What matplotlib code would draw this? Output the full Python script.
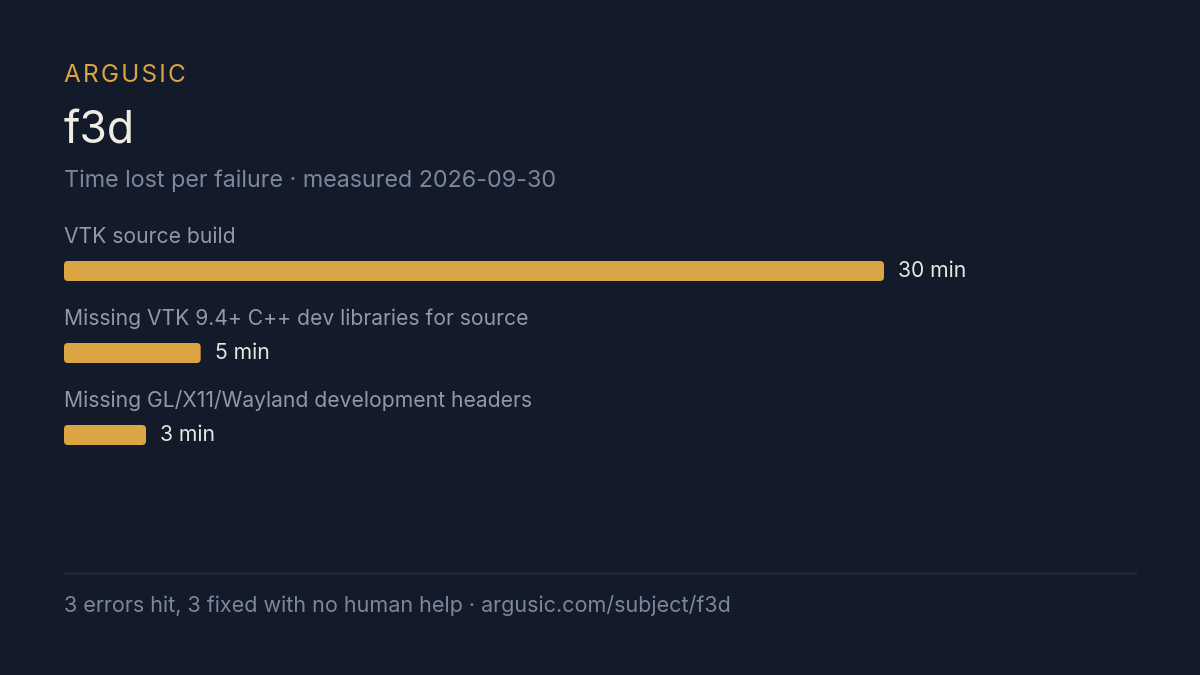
import matplotlib.pyplot as plt
from matplotlib.patches import FancyBboxPatch

plt.rcParams['font.family'] = ['Inter', 'DejaVu Sans']

labels = ['VTK source build',
          'Missing VTK 9.4+ C++ dev libraries for source',
          'Missing GL/X11/Wayland development headers']
minutes = [30, 5, 3]
value_text = ['30 min', '5 min', '3 min']

bg = '#131a2a'
bar_color = '#dba544'

fig = plt.figure(figsize=(12, 6.75), dpi=100)
fig.patch.set_facecolor(bg)

# full-figure axes in pixel coordinates for text
ax = fig.add_axes([0, 0, 1, 1])
ax.set_xlim(0, 1200)
ax.set_ylim(675, 0)
ax.axis('off')
ax.set_facecolor(bg)

ax.text(64, 82, 'A R G U S I C'.replace(' ', '\u200a'), color='#dba544', fontsize=17.5,
        va='baseline', ha='left')
ax.text(64, 144, 'f3d', color='#efece3', fontsize=32, va='baseline', ha='left')
ax.text(64, 187, 'Time lost per failure \u00b7 measured 2026-09-30', color='#7d879a',
        fontsize=16.8, va='baseline', ha='left')

# bar axes: x from 64px to 884px spans 0..30 minutes
bx = fig.add_axes([64 / 1200, 0, 820 / 1200, 1])
bx.set_xlim(0, max(minutes))
bx.set_ylim(675, 0)
bx.axis('off')
bx.patch.set_alpha(0)

px = max(minutes) / 820
row0 = 271
step = 82
for i, (lab, m, vt) in enumerate(zip(labels, minutes, value_text)):
    yc = row0 + i * step
    ax.text(64, yc - 28, lab, color='#8f99aa', fontsize=15.2, va='baseline', ha='left')
    r = 4
    bar = FancyBboxPatch((0, yc - 10), m, 20,
                         boxstyle=f'round,pad=0,rounding_size={r * px}',
                         mutation_aspect=1 / px, facecolor=bar_color, edgecolor='none')
    bx.add_patch(bar)
    bx.text(m + 14 * px, yc, vt, color='#e8e6e0', fontsize=15.2, va='center', ha='left')

ax.plot([64, 1136], [573, 573], color='#263044', lw=1)
ax.text(64, 612, '3 errors hit, 3 fixed with no human help \u00b7 argusic.com/subject/f3d',
        color='#7d879a', fontsize=15.5, va='baseline', ha='left')

fig.savefig('out.png', dpi=100, facecolor=bg)
